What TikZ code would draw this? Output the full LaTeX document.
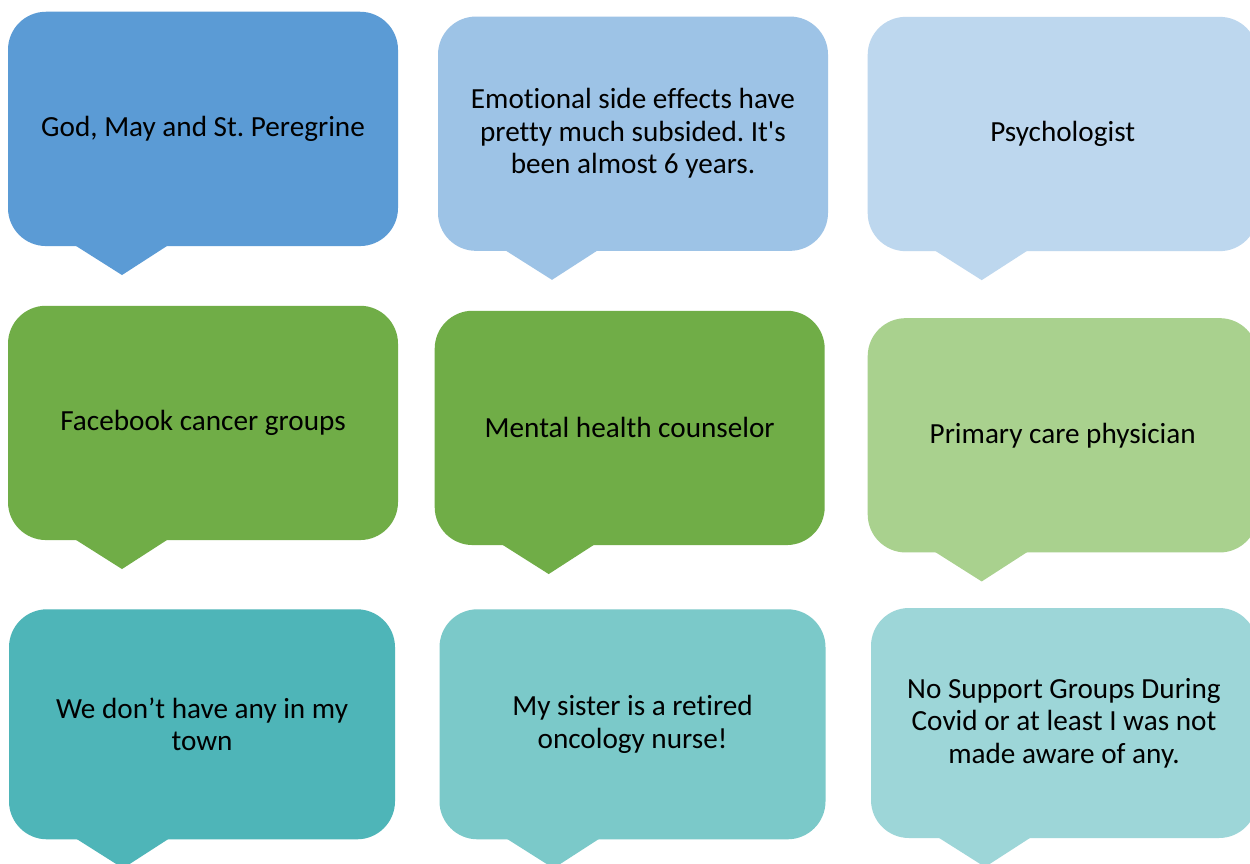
\documentclass[tikz,border=0pt]{standalone}
\usepackage{fontspec}
\setmainfont{Carlito}[Ligatures={TeX,NoCommon}]
\usetikzlibrary{calc}
\definecolor{cA}{HTML}{5B9BD5}
\definecolor{cB}{HTML}{9DC3E6}
\definecolor{cC}{HTML}{BDD7EE}
\definecolor{cD}{HTML}{70AD47}
\definecolor{cE}{HTML}{70AD47}
\definecolor{cF}{HTML}{A9D18E}
\definecolor{cG}{HTML}{4EB5B8}
\definecolor{cH}{HTML}{7BC9C9}
\definecolor{cI}{HTML}{9DD6D8}
\tikzset{
  bubble/.style={rectangle, rounded corners=38pt, draw=none, fill=#1,
    minimum width=390pt, minimum height=234.3pt, inner sep=0pt, outer sep=0pt,
    align=center, text=black, font=\fontsize{29.2}{32.5}\selectfont},
  lowbubble/.style={bubble=#1, minimum width=386pt, minimum height=230pt}
}
\newcommand\bubtail[2]{%
  \fill[#2] ($(#1.south west)+(65,-2)$) -- ($(#1.south west)+(114,29)$) -- ($(#1.south west)+(162,-2)$) -- cycle;}
\begin{document}
\frenchspacing
\begin{tikzpicture}[x=1pt,y=-1pt]
\useasboundingbox (0,0) rectangle (1250,864);
\clip (0,0) rectangle (1250,864);
\fill[white] (0,0) rectangle (1250,864);
% row 1
\node[bubble=cA] (b1) at (203,128.9) {God, May and St. Peregrine};
\bubtail{b1}{cA}
\node[bubble=cB] (b2) at (633,133.7) {Emotional side effects have\\pretty much subsided. It\textquotesingle s\\been almost 6 years.};
\bubtail{b2}{cB}
\node[bubble=cC] (b3) at (1062.7,134) {Psychologist};
\bubtail{b3}{cC}
% row 2
\node[bubble=cD] (b4) at (203,422.9) {Facebook cancer groups};
\bubtail{b4}{cD}
\node[bubble=cE] (b5) at (629.7,427.9) {Mental health counselor};
\bubtail{b5}{cE}
\node[bubble=cF] (b6) at (1062.7,435.3) {Primary care physician};
\bubtail{b6}{cF}
% row 3
\node[lowbubble=cG] (b7) at (202,724.3) {We don’t have any in my\\town};
\bubtail{b7}{cG}
\node[lowbubble=cH] (b8) at (632.5,724.3) {My sister is a retired\\oncology nurse!};
\bubtail{b8}{cH}
\node[lowbubble=cI] (b9) at (1064,723) {No Support Groups During\\Covid or at least I was not\\made aware of any.};
\bubtail{b9}{cI}
\end{tikzpicture}
\end{document}
